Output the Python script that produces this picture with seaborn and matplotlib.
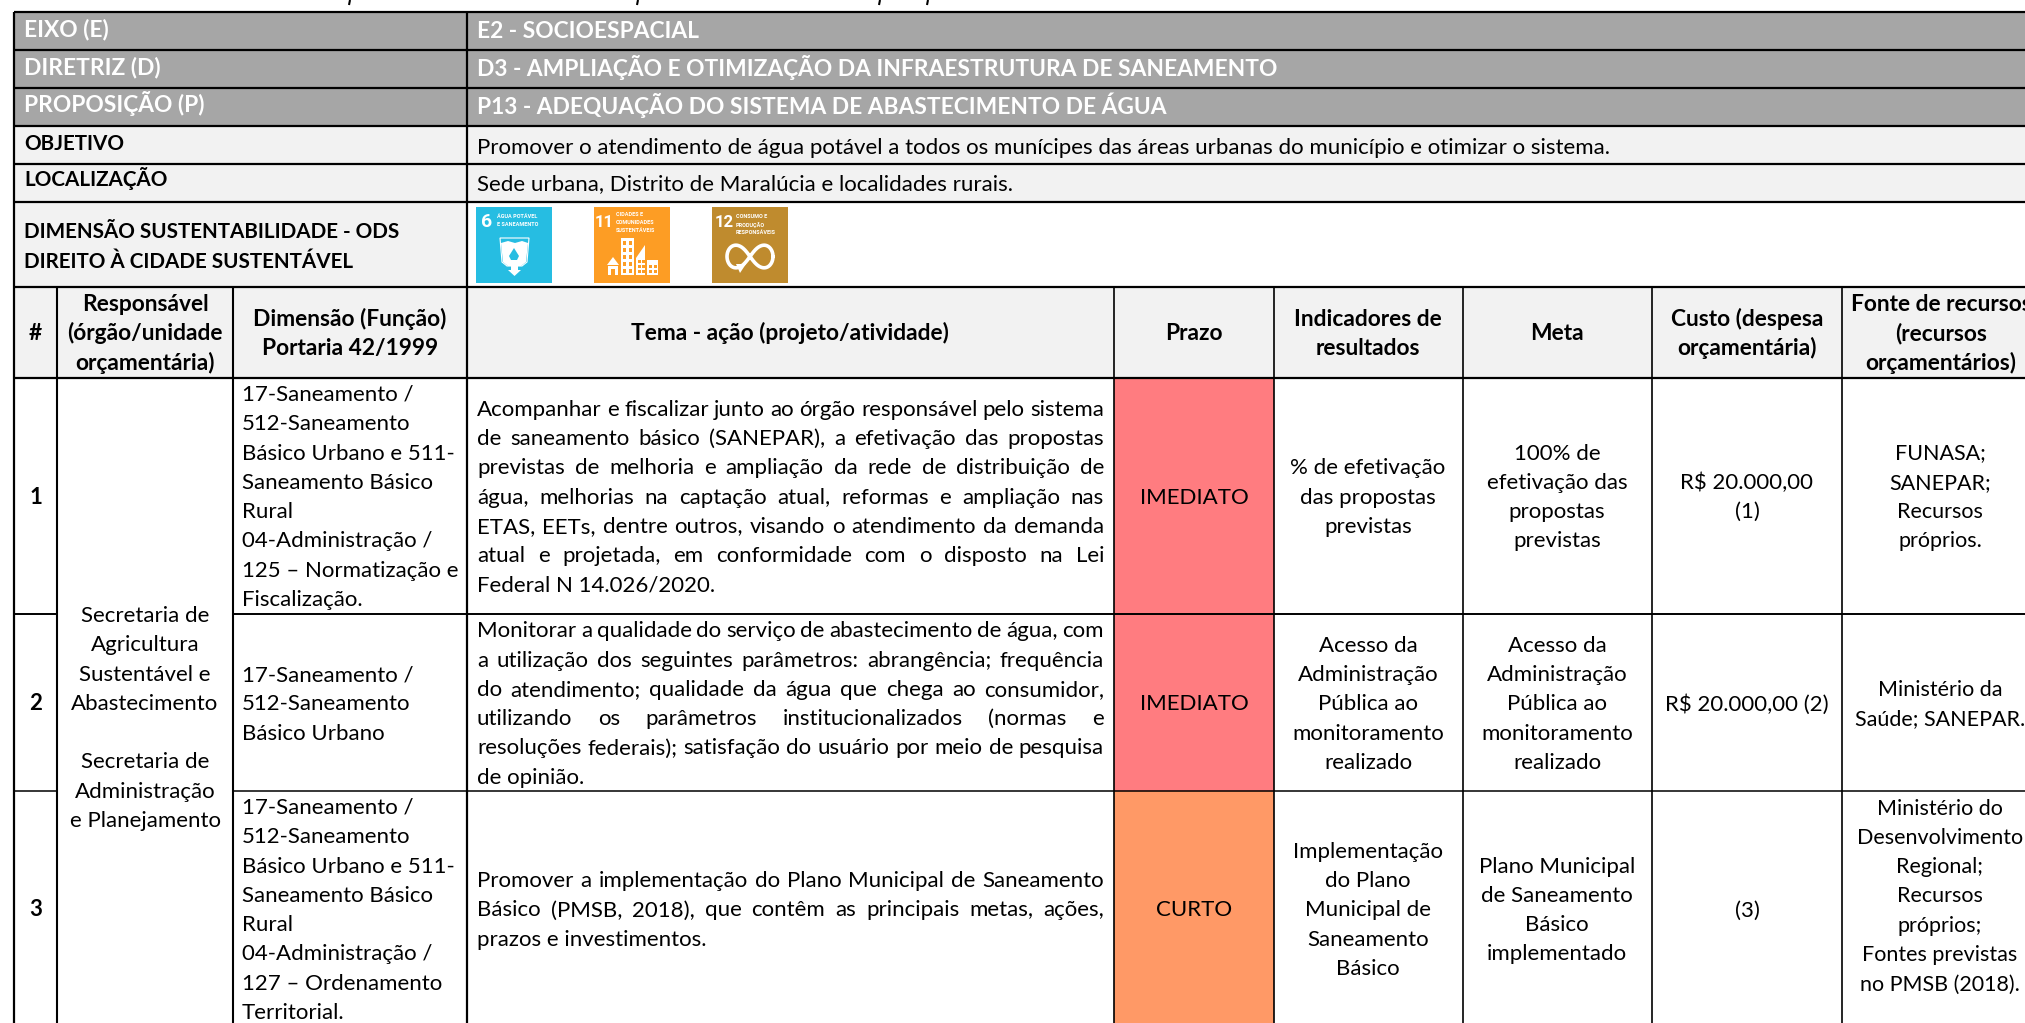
#!/usr/bin/env python3
# -*- coding: utf-8 -*-
"""Quadro do eixo E2 - proposicao P13, desenhado como heatmap com escala por celula"""

import numpy as np
import matplotlib
matplotlib.use('Agg')
import matplotlib.pyplot as plt
from matplotlib.colors import ListedColormap
from matplotlib.patches import Polygon, Rectangle
import seaborn as sns

# celulas: 0 branco, 1 cinza, 2 cinza claro, 3 vermelho, 4 laranja
cell_codes = [
    [0, 0, 0, 0, 0, 0, 0, 0, 0, 0],
    [0, 1, 1, 1, 1, 1, 1, 1, 1, 1],
    [0, 1, 1, 1, 1, 1, 1, 1, 1, 1],
    [0, 1, 1, 1, 1, 1, 1, 1, 1, 1],
    [0, 2, 2, 2, 2, 2, 2, 2, 2, 2],
    [0, 2, 2, 2, 2, 2, 2, 2, 2, 2],
    [0, 2, 2, 2, 0, 0, 0, 0, 0, 0],
    [0, 2, 2, 2, 2, 2, 2, 2, 2, 2],
    [0, 0, 0, 0, 0, 3, 0, 0, 0, 0],
    [0, 0, 0, 0, 0, 3, 0, 0, 0, 0],
    [0, 0, 0, 0, 0, 4, 0, 0, 0, 0],
]
cell_colors = ['#FFFFFF', '#A6A6A6', '#F2F2F2', '#FF7C80', '#FF9966']

top_left = ['EIXO (E)', 'DIRETRIZ (D)', 'PROPOSIÇÃO (P)']
top_right = ['E2 - SOCIOESPACIAL',
             'D3 - AMPLIAÇÃO E OTIMIZAÇÃO DA INFRAESTRUTURA DE SANEAMENTO',
             'P13 - ADEQUAÇÃO DO SISTEMA DE ABASTECIMENTO DE ÁGUA']
info_left = ['OBJETIVO', 'LOCALIZAÇÃO']
info_right = ['Promover o atendimento de água potável a todos os munícipes das áreas urbanas do município e otimizar o sistema.',
              'Sede urbana, Distrito de Maralúcia e localidades rurais.']
ods_label = ['DIMENSÃO SUSTENTABILIDADE - ODS', 'DIREITO À CIDADE SUSTENTÁVEL']

col_headers = [
    ['#'],
    ['Responsável', '(órgão/unidade', 'orçamentária)'],
    ['Dimensão (Função)', 'Portaria 42/1999'],
    ['Tema - ação (projeto/atividade)'],
    ['Prazo'],
    ['Indicadores de', 'resultados'],
    ['Meta'],
    ['Custo (despesa', 'orçamentária)'],
    ['Fonte de recursos', '(recursos', 'orçamentários)'],
]

row_numbers = ['1', '2', '3']
responsavel = ['Secretaria de', 'Agricultura', 'Sustentável e', 'Abastecimento', '',
               'Secretaria de', 'Administração', 'e Planejamento']
dimensao = [
    ['17-Saneamento /', '512-Saneamento', 'Básico Urbano e 511-', 'Saneamento Básico', 'Rural',
     '04-Administração /', '125 – Normatização e', 'Fiscalização.'],
    ['17-Saneamento /', '512-Saneamento', 'Básico Urbano'],
    ['17-Saneamento /', '512-Saneamento', 'Básico Urbano e 511-', 'Saneamento Básico', 'Rural',
     '04-Administração /', '127 – Ordenamento', 'Territorial.'],
]
tema = [
    ['Acompanhar e fiscalizar junto ao órgão responsável pelo sistema',
     'de saneamento básico (SANEPAR), a efetivação das propostas',
     'previstas de melhoria e ampliação da rede de distribuição de',
     'água, melhorias na captação atual, reformas e ampliação nas',
     'ETAS, EETs, dentre outros, visando o atendimento da demanda',
     'atual e projetada, em conformidade com o disposto na Lei',
     'Federal N 14.026/2020.'],
    ['Monitorar a qualidade do serviço de abastecimento de água, com',
     'a utilização dos seguintes parâmetros: abrangência; frequência',
     'do atendimento; qualidade da água que chega ao consumidor,',
     'utilizando os parâmetros institucionalizados (normas e',
     'resoluções federais); satisfação do usuário por meio de pesquisa',
     'de opinião.'],
    ['Promover a implementação do Plano Municipal de Saneamento',
     'Básico (PMSB, 2018), que contêm as principais metas, ações,',
     'prazos e investimentos.'],
]
prazo = ['IMEDIATO', 'IMEDIATO', 'CURTO']
indicadores = [
    ['% de efetivação', 'das propostas', 'previstas'],
    ['Acesso da', 'Administração', 'Pública ao', 'monitoramento', 'realizado'],
    ['Implementação', 'do Plano', 'Municipal de', 'Saneamento', 'Básico'],
]
meta = [
    ['100% de', 'efetivação das', 'propostas', 'previstas'],
    ['Acesso da', 'Administração', 'Pública ao', 'monitoramento', 'realizado'],
    ['Plano Municipal', 'de Saneamento', 'Básico', 'implementado'],
]
custo = [['R$ 20.000,00', '(1)'], ['R$ 20.000,00 (2)'], ['(3)']]
fonte = [
    ['FUNASA;', 'SANEPAR;', 'Recursos', 'próprios.'],
    ['Ministério da', 'Saúde; SANEPAR.'],
    ['Ministério do', 'Desenvolvimento', 'Regional;', 'Recursos', 'próprios;', 'Fontes previstas', 'no PMSB (2018).'],
]

# layout em pixels
x_edges = [0, 14, 57, 233, 467, 1114, 1274, 1463, 1652, 1842, 2025]
y_edges = [0, 12, 50, 88, 126, 164, 202, 287, 378, 614, 791, 1023]
col_centers = [35.5, 145, 350, 790, 1194, 1368, 1557, 1747, 1941]
LINE = 29.3
FS = 16
FS_TOP = 16.4
FS_HEAD = 16.4
FS_LABEL = 14.9
FS_FONTE = 15.5
TEMA_LEFT, TEMA_RIGHT = 477, 1104

sns.set_theme(style='white')
plt.rcParams['font.family'] = ['Lato', 'DejaVu Sans']

fig = plt.figure(figsize=(20.25, 10.23), dpi=100)
ax = fig.add_axes([0, 0, 1, 1])
sns.heatmap(np.array(cell_codes), cmap=ListedColormap(cell_colors), vmin=0, vmax=4,
            cbar=False, xticklabels=False, yticklabels=False, ax=ax)

# cada celula do heatmap tem a largura/altura real da coluna/linha
x_idx = np.arange(len(x_edges), dtype=float)
y_idx = np.arange(len(y_edges), dtype=float)
ax.set_xscale('function', functions=(lambda v: np.interp(v, x_idx, x_edges),
                                     lambda v: np.interp(v, x_edges, x_idx)))
ax.set_yscale('function', functions=(lambda v: np.interp(v, y_idx, y_edges),
                                     lambda v: np.interp(v, y_edges, y_idx)))
ax.set_xlim(0, 10)
ax.set_ylim(11, 0)
ax.set_axis_off()

# linhas da grade, em indices de celula
for r in [1, 2, 3, 4, 5, 6, 7, 8]:
    ax.hlines(r, 1, 10, color='black', lw=1.6)
for r, lw in [(9, 1.4), (10, 1.1)]:
    ax.hlines(r, 1, 2, color='black', lw=lw)
    ax.hlines(r, 3, 10, color='black', lw=lw)
ax.vlines(1, 1, 11, color='black', lw=1.6)
ax.vlines(4, 1, 11, color='black', lw=1.6)
for c in [2, 3]:
    ax.vlines(c, 7, 11, color='black', lw=1.5)
for c in [5, 6, 7, 8, 9]:
    ax.vlines(c, 7, 11, color='black', lw=1.2)

# camada em pixels para os textos
px = fig.add_axes([0, 0, 1, 1], facecolor='none')
px.set_xlim(0, 2025)
px.set_ylim(1023, 0)
px.set_axis_off()
renderer = fig.canvas.get_renderer()


def put(x, y, s, ha='center', weight='normal', color='black', size=FS):
    # y = meio da linha de texto
    return px.text(x, y + 6.5, s, ha=ha, va='baseline', fontweight=weight, color=color, fontsize=size)


def block(lines, x, yc, weight='normal', ha='center', size=FS):
    n = len(lines)
    for i, s in enumerate(lines):
        if s:
            put(x, yc + (i - (n - 1) / 2) * LINE, s, weight=weight, ha=ha, size=size)


def justified(lines, yc):
    n = len(lines)
    for i, s in enumerate(lines):
        y = yc + (i - (n - 1) / 2) * LINE
        if i == n - 1:
            put(TEMA_LEFT, y, s, ha='left')
            continue
        words = s.split(' ')
        items = [put(0, y, w, ha='left') for w in words]
        widths = [t.get_window_extent(renderer).width for t in items]
        gap = (TEMA_RIGHT - TEMA_LEFT - sum(widths)) / (len(words) - 1)
        cur = TEMA_LEFT
        for t, w in zip(items, widths):
            t.set_x(cur)
            cur += w + gap


for i, yc in enumerate([30, 68, 105]):
    put(24, yc, top_left[i], ha='left', weight='bold', color='white', size=FS_TOP)
    put(477, yc + 2, top_right[i], ha='left', weight='bold', color='white', size=FS_TOP)
for i, yc in enumerate([143, 180]):
    put(24, yc, info_left[i], ha='left', weight='bold', size=FS_LABEL)
    put(477, yc + 4, info_right[i], ha='left')
put(24, 232, ods_label[0], ha='left', weight='bold', size=FS_LABEL)
put(24, 261, ods_label[1], ha='left', weight='bold', size=FS_LABEL)

for c, head in zip(col_centers, col_headers):
    block(head, c, 334, weight='bold', size=FS_HEAD)

row_mid = [497, 704, 910]
fonte_mid = [497, 704, 896]
for i, yc in enumerate(row_mid):
    put(col_centers[0], yc, row_numbers[i], weight='bold')
    block(dimensao[i], 242, yc, ha='left')
    put(col_centers[4], yc, prazo[i])
    block(indicadores[i], col_centers[5], yc)
    block(meta[i], col_centers[6], yc)
    block(custo[i], col_centers[7], yc)
    block(fonte[i], 1940, fonte_mid[i], size=FS_FONTE)
    justified(tema[i], yc)
block(responsavel, col_centers[1], 718)

# restos da legenda cortada no topo
for x0 in [350, 638, 880, 928]:
    px.plot([x0, x0 - 1], [0, 5], color='black', lw=1.5, solid_capstyle='butt')


# icones ODS
def ods_card(x, color, num, num_x, num_size, words, text_x, text_ys):
    px.add_patch(Rectangle((x, 207), 76, 76, color=color, lw=0))
    px.text(num_x, 227, num, color='white', fontsize=num_size, fontweight='bold', ha='center', va='baseline',
            family='Roboto')
    for s, y in zip(words, text_ys):
        px.text(text_x, y, s, color='white', fontsize=4, fontweight='bold', ha='left', va='center', family='Roboto')


BLUE, ORANGE, BROWN = '#26BDE2', '#FD9D24', '#BF8B2E'
ods_card(476, BLUE, '6', 487, 14, ['ÁGUA POTÁVEL', 'E SANEAMENTO'], 497, [216, 224])
ods_card(594, ORANGE, '11', 604, 12, ['CIDADES E', 'COMUNIDADES', 'SUSTENTÁVEIS'], 616, [214, 222, 231])
ods_card(712, BROWN, '12', 724, 12, ['CONSUMO E', 'PRODUÇÃO', 'RESPONSÁVEIS'], 736, [216, 225, 232])

# copo com gota
px.add_patch(Polygon([(500, 238), (529, 238), (527, 262), (522, 266), (507, 266), (502, 262)],
                     facecolor='none', edgecolor='white', lw=0.8))
px.add_patch(Polygon([(501, 243), (508, 241), (515, 243), (522, 241), (528, 243), (526, 262), (521, 266),
                      (508, 266), (503, 262)], color='white', lw=0))
px.add_patch(Polygon([(514, 248), (519, 256), (517, 260), (511, 260), (509, 256)], color=BLUE, lw=0))
px.add_patch(Polygon([(511, 266), (518, 266), (518, 270), (521, 270), (514.5, 276), (508, 270), (511, 270)],
                     color='white', lw=0))

# cidade
for rect in [(608, 266, 10, 9), (621, 238, 13, 37), (647, 260, 11, 15)]:
    px.add_patch(Rectangle(rect[:2], rect[2], rect[3], color='white', lw=0))
px.add_patch(Polygon([(607, 265), (613, 257), (619, 265)], color='white', lw=0))
px.add_patch(Polygon([(636, 275), (636, 258), (645, 245), (645, 275)], color='white', lw=0))
px.add_patch(Rectangle((611, 269), 4, 6, color=ORANGE, lw=0))
for wx in [623, 629]:
    for wy in [241, 248, 255, 262, 269]:
        px.add_patch(Rectangle((wx, wy), 3, 4, color=ORANGE, lw=0))
for wx in [638, 642]:
    for wy in [260, 265, 270]:
        px.add_patch(Rectangle((wx, wy), 2.5, 3, color=ORANGE, lw=0))
for wx in [649, 654]:
    for wy in [265, 270]:
        px.add_patch(Rectangle((wx, wy), 3, 3, color=ORANGE, lw=0))

# infinito
t = np.linspace(0, 2 * np.pi, 200)
px.plot(750 + 23 * np.cos(t) / (1 + np.sin(t) ** 2), 256.5 + 32 * np.sin(t) * np.cos(t) / (1 + np.sin(t) ** 2),
        color='white', lw=2.6)
px.add_patch(Polygon([(736, 264), (746, 264), (740, 273)], color='white', lw=0))

fig.savefig('out.png', dpi=100)
